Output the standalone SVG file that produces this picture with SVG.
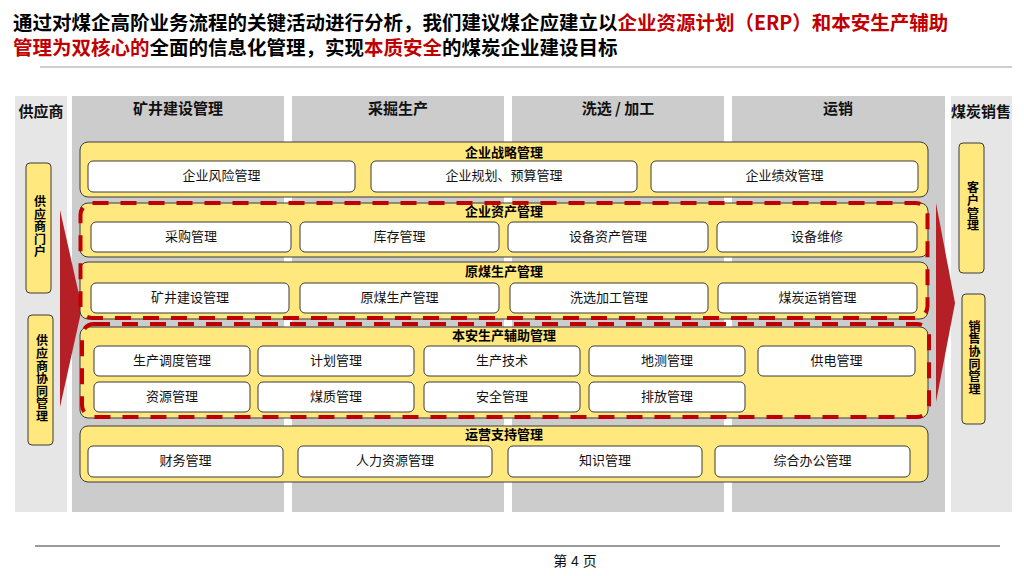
<svg xmlns="http://www.w3.org/2000/svg" width="1024" height="576" viewBox="0 0 1024 576">
<style>
.col{fill:#cccccc}
.side{fill:#e6e6e6}
.band{fill:#ffe97f;stroke:#3a3a3a;stroke-width:1}
.box{fill:#ffffff;stroke:#3a3a3a;stroke-width:1}
.sbox{fill:#ffe97f;stroke:#3a3a3a;stroke-width:1}
.t{font-family:"Noto Sans CJK SC","Noto Sans",sans-serif;font-size:13px;text-anchor:middle;dominant-baseline:central;fill:#111}
.bt{font-family:"Noto Sans CJK SC","Noto Sans",sans-serif;font-size:13px;font-weight:bold;text-anchor:middle;dominant-baseline:central;fill:#000}
.hd{font-family:"Noto Sans CJK SC","Noto Sans",sans-serif;font-size:15px;font-weight:bold;text-anchor:middle;dominant-baseline:central;fill:#111}
.vt{font-family:"Noto Sans CJK SC","Noto Sans",sans-serif;font-size:12px;font-weight:bold;text-anchor:middle;writing-mode:vertical-rl;letter-spacing:0.6px;fill:#000}
.ttl{font-family:"Noto Sans CJK SC","Noto Sans",sans-serif;font-size:19.5px;font-weight:bold;fill:#000}
.red{fill:#c00000}
.dash{fill:none;stroke:#c00000;stroke-width:4;stroke-dasharray:16 12}
.arrow{fill:#b42025}
</style>
<rect x="0" y="0" width="1024" height="576" fill="#ffffff"/>

<g id="title">
<text class="ttl" x="13" y="30">通过对煤企高阶业务流程的关键活动进行分析，我们建议煤企应建立以<tspan class="red">企业资源计划（ERP）和本安生产辅助</tspan></text>
<text class="ttl" x="13" y="55"><tspan class="red">管理为双核心的</tspan>全面的信息化管理，实现<tspan class="red">本质安全</tspan>的煤炭企业建设目标</text>
<line x1="40" y1="67" x2="1012" y2="67" stroke="#bdbdbd" stroke-width="1.5"/>
</g>

<g id="columns">
<rect class="side" x="15" y="96" width="52" height="416"/>
<rect class="col" x="72" y="96" width="212" height="416"/>
<rect class="col" x="292" y="96" width="212" height="416"/>
<rect class="col" x="512" y="96" width="212" height="416"/>
<rect class="col" x="732" y="96" width="213" height="416"/>
<rect class="side" x="951" y="96" width="61" height="416"/>
<text class="hd" x="41" y="110.5">供应商</text>
<text class="hd" x="178" y="107">矿井建设管理</text>
<text class="hd" x="398" y="107">采掘生产</text>
<text class="hd" x="618" y="107">洗选 / 加工</text>
<text class="hd" x="838" y="107">运销</text>
<text class="hd" x="981" y="110.5">煤炭销售</text>
</g>

<g id="connectors">
<polygon class="arrow" points="60,210 82,308 60,407"/>
<polygon class="arrow" points="936,203 955,303 936,402"/>
</g>

<g id="supplier-portal">
<rect class="sbox" x="26" y="163" width="25" height="130" rx="4"/>
<text class="vt" x="40" y="227">供应商门户</text>
</g>
<g id="supplier-collab">
<rect class="sbox" x="28" y="315" width="25" height="130" rx="4"/>
<text class="vt" x="42" y="379">供应商协同管理</text>
</g>
<g id="customer-mgmt">
<rect class="sbox" x="959" y="143" width="25" height="130" rx="4"/>
<text class="vt" x="973" y="207">客户管理</text>
</g>
<g id="sales-collab">
<rect class="sbox" x="962" y="294" width="23" height="130" rx="4"/>
<text class="vt" x="974.5" y="358">销售协同管理</text>
</g>

<g id="strategy">
<rect class="band" x="80" y="142" width="848" height="55" rx="8"/>
<text class="bt" x="504" y="151">企业战略管理</text>
<rect class="box" x="88" y="161" width="267" height="31" rx="5"/><text class="t" x="221.5" y="174.5">企业风险管理</text>
<rect class="box" x="371" y="161" width="266" height="31" rx="5"/><text class="t" x="504" y="174.5">企业规划、预算管理</text>
<rect class="box" x="651" y="161" width="267" height="31" rx="5"/><text class="t" x="784.5" y="174.5">企业绩效管理</text>
</g>

<g id="asset">
<rect class="band" x="80" y="203" width="848" height="54" rx="8"/>
<text class="bt" x="504" y="210.5">企业资产管理</text>
<rect class="box" x="91" y="222" width="200" height="30" rx="5"/><text class="t" x="191" y="235">采购管理</text>
<rect class="box" x="300" y="222" width="199" height="30" rx="5"/><text class="t" x="399.5" y="235">库存管理</text>
<rect class="box" x="508" y="222" width="200" height="30" rx="5"/><text class="t" x="608" y="235">设备资产管理</text>
<rect class="box" x="717" y="222" width="200" height="30" rx="5"/><text class="t" x="817" y="235">设备维修</text>
</g>

<g id="coal-production">
<rect class="band" x="80" y="262" width="848" height="57" rx="8"/>
<text class="bt" x="504" y="270">原煤生产管理</text>
<rect class="box" x="91" y="283" width="198" height="30" rx="5"/><text class="t" x="190" y="296">矿井建设管理</text>
<rect class="box" x="300" y="283" width="199" height="30" rx="5"/><text class="t" x="399.5" y="296">原煤生产管理</text>
<rect class="box" x="510" y="283" width="198" height="30" rx="5"/><text class="t" x="609" y="296">洗选加工管理</text>
<rect class="box" x="718" y="283" width="199" height="30" rx="5"/><text class="t" x="817.5" y="296">煤炭运销管理</text>
</g>

<g id="safety-production">
<rect class="band" x="80" y="327" width="848" height="91" rx="8"/>
<text class="bt" x="504" y="334">本安生产辅助管理</text>
<rect class="box" x="94" y="346" width="156" height="30" rx="5"/><text class="t" x="172" y="359">生产调度管理</text>
<rect class="box" x="258" y="346" width="156" height="30" rx="5"/><text class="t" x="336" y="359">计划管理</text>
<rect class="box" x="424" y="346" width="156" height="30" rx="5"/><text class="t" x="502" y="359">生产技术</text>
<rect class="box" x="589" y="346" width="156" height="30" rx="5"/><text class="t" x="667" y="359">地测管理</text>
<rect class="box" x="758" y="346" width="157" height="30" rx="5"/><text class="t" x="836.5" y="359">供电管理</text>
<rect class="box" x="94" y="382" width="156" height="30" rx="5"/><text class="t" x="172" y="395">资源管理</text>
<rect class="box" x="258" y="382" width="156" height="30" rx="5"/><text class="t" x="336" y="395">煤质管理</text>
<rect class="box" x="424" y="382" width="156" height="30" rx="5"/><text class="t" x="502" y="395">安全管理</text>
<rect class="box" x="589" y="382" width="156" height="30" rx="5"/><text class="t" x="667" y="395">排放管理</text>
</g>

<g id="operations-support">
<rect class="band" x="80" y="426" width="848" height="56" rx="8"/>
<text class="bt" x="504" y="433">运营支持管理</text>
<rect class="box" x="88" y="446" width="195" height="31" rx="5"/><text class="t" x="185.5" y="459.5">财务管理</text>
<rect class="box" x="298" y="446" width="194" height="31" rx="5"/><text class="t" x="395" y="459.5">人力资源管理</text>
<rect class="box" x="508" y="446" width="194" height="31" rx="5"/><text class="t" x="605" y="459.5">知识管理</text>
<rect class="box" x="715" y="446" width="195" height="31" rx="5"/><text class="t" x="812.5" y="459.5">综合办公管理</text>
</g>

<g id="erp-highlight">
<rect class="dash" x="80.5" y="203" width="847" height="115" rx="12"/>
</g>
<g id="safety-highlight">
<rect class="dash" x="82" y="324" width="847" height="93" rx="12"/>
</g>

<g id="footer">
<line x1="35" y1="546" x2="1000" y2="546" stroke="#999999" stroke-width="2"/>
<text x="575" y="566" font-family="'Liberation Sans','Noto Sans CJK SC',sans-serif" font-size="14" text-anchor="middle" fill="#111">第 4 页</text>
</g>
</svg>
